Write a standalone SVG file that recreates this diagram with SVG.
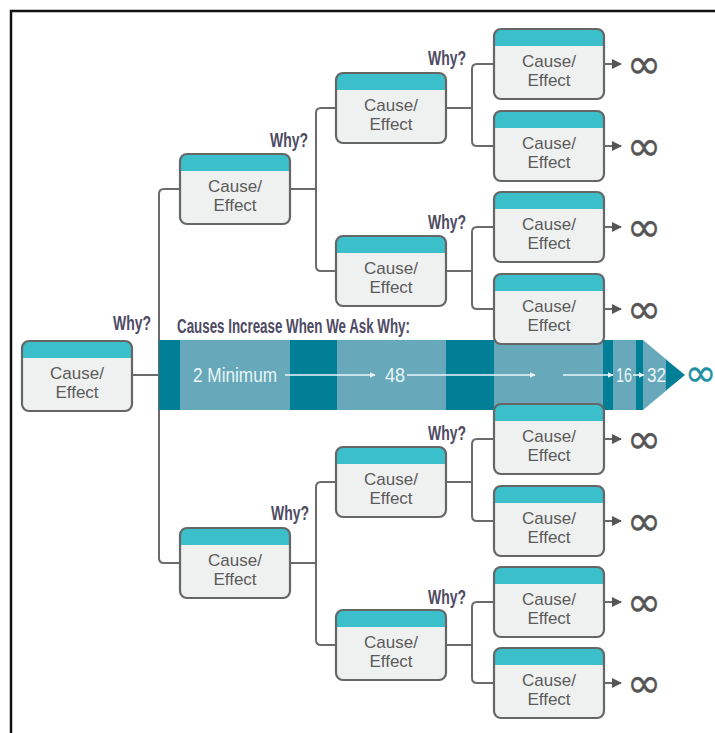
<svg xmlns="http://www.w3.org/2000/svg" xmlns:xlink="http://www.w3.org/1999/xlink" width="715" height="733" viewBox="0 0 715 733">
<style>
.conn{fill:none;stroke:#6b6b6b;stroke-width:2}
.lbl{font-family:"Liberation Sans",Arial,sans-serif;font-size:17px;fill:#5b5b5b;text-anchor:middle}
.why{font-family:"Liberation Sans",Arial,sans-serif;font-weight:bold;font-size:20px;fill:#4e4b63}
.inf{font-family:"DejaVu Sans",sans-serif;font-size:41px;fill:#555;stroke:#555;stroke-width:0.4;text-anchor:middle}
.bn{font-family:"Liberation Sans",Arial,sans-serif;font-size:20px;fill:#eaf5f7}
.wl{fill:none;stroke:#eaf5f7;stroke-width:1.6}
.light{fill:#67a9ba}
.dark{fill:#007f97}
</style>
<defs>
<g id="box">
<rect x="0" y="0" width="110" height="70" rx="7" fill="#eff0f0"/>
<path d="M0,7 a7,7 0 0 1 7,-7 h96 a7,7 0 0 1 7,7 v10 h-110 z" fill="#3bbfcb"/>
<rect x="0" y="0" width="110" height="70" rx="7" fill="none" stroke="#666" stroke-width="2.2"/>
</g>
<marker id="ah" viewBox="0 0 10 10" refX="9" refY="5" markerWidth="10" markerHeight="10" markerUnits="userSpaceOnUse" orient="auto">
<path d="M0,0 L10,5 L0,10 z" fill="#555"/>
</marker>
<marker id="wh" viewBox="0 0 10 10" refX="9" refY="5" markerWidth="6" markerHeight="6" markerUnits="userSpaceOnUse" orient="auto">
<path d="M0,0 L10,5 L0,10 z" fill="#eaf5f7"/>
</marker>
</defs>
<rect width="715" height="733" fill="#fff"/>
<path d="M11,733 V11 H715" fill="none" stroke="#111" stroke-width="2.5"/>

<g id="connectors">
<path class="conn" d="M133,375 H159"/>
<path class="conn" d="M180,189 H164 q-5,0 -5,5 V558 q0,5 5,5 H180"/>
<path class="conn" d="M290,189 H316"/>
<path class="conn" d="M336,108 H321 q-5,0 -5,5 V266 q0,5 5,5 H336"/>
<path class="conn" d="M290,563 H316"/>
<path class="conn" d="M336,482 H321 q-5,0 -5,5 V640 q0,5 5,5 H336"/>
<path class="conn" d="M446,108 H472"/>
<path class="conn" d="M494,64 H477 q-5,0 -5,5 V141 q0,5 5,5 H494"/>
<path class="conn" d="M446,271 H472"/>
<path class="conn" d="M494,227 H477 q-5,0 -5,5 V304 q0,5 5,5 H494"/>
<path class="conn" d="M446,482 H472"/>
<path class="conn" d="M494,439 H477 q-5,0 -5,5 V516 q0,5 5,5 H494"/>
<path class="conn" d="M446,645 H472"/>
<path class="conn" d="M494,602 H477 q-5,0 -5,5 V678 q0,5 5,5 H494"/>
<path class="conn" d="M604,64 H621" marker-end="url(#ah)"/>
<path class="conn" d="M604,146 H621" marker-end="url(#ah)"/>
<path class="conn" d="M604,227 H621" marker-end="url(#ah)"/>
<path class="conn" d="M604,309 H621" marker-end="url(#ah)"/>
<path class="conn" d="M604,439 H621" marker-end="url(#ah)"/>
<path class="conn" d="M604,521 H621" marker-end="url(#ah)"/>
<path class="conn" d="M604,602 H621" marker-end="url(#ah)"/>
<path class="conn" d="M604,683 H621" marker-end="url(#ah)"/>
</g>

<g id="banner">
<rect class="light" x="159" y="340" width="477" height="70"/>
<rect class="dark" x="159" y="340" width="21" height="70"/>
<rect class="dark" x="290" y="340" width="47" height="70"/>
<rect class="dark" x="446" y="340" width="48" height="70"/>
<rect class="dark" x="603" y="340" width="10" height="70"/>
<rect class="dark" x="636" y="340" width="7" height="70"/>
<polygon class="light" points="643,340 667,360 667,390 643,410"/>
<polygon class="dark" points="666,359.5 685,375 666,390.5"/>
<path class="wl" d="M285,375 H375" marker-end="url(#wh)"/>
<path class="wl" d="M407,375 H535" marker-end="url(#wh)"/>
<path class="wl" d="M563,375 H613" marker-end="url(#wh)"/>
<path class="wl" d="M633,375 H644" marker-end="url(#wh)"/>
<text class="bn" x="193" y="382" textLength="84" lengthAdjust="spacingAndGlyphs">2 Minimum</text>
<text class="bn" x="385" y="382" textLength="20" lengthAdjust="spacingAndGlyphs">48</text>
<text class="bn" x="616" y="382" textLength="16" lengthAdjust="spacingAndGlyphs">16</text>
<text class="bn" x="647" y="382" textLength="19" lengthAdjust="spacingAndGlyphs">32</text>
<text class="inf" x="700.5" y="386" style="fill:#1f8fa3;stroke:#1f8fa3;font-size:38px">∞</text>
<text class="why" x="177" y="333" textLength="233" lengthAdjust="spacingAndGlyphs">Causes Increase When We Ask Why:</text>
</g>

<g id="why-labels">
<text class="why" x="113" y="330" textLength="38" lengthAdjust="spacingAndGlyphs">Why?</text>
<text class="why" x="270" y="147" textLength="38" lengthAdjust="spacingAndGlyphs">Why?</text>
<text class="why" x="271" y="520" textLength="38" lengthAdjust="spacingAndGlyphs">Why?</text>
<text class="why" x="428" y="65" textLength="38" lengthAdjust="spacingAndGlyphs">Why?</text>
<text class="why" x="428" y="229" textLength="38" lengthAdjust="spacingAndGlyphs">Why?</text>
<text class="why" x="428" y="440" textLength="38" lengthAdjust="spacingAndGlyphs">Why?</text>
<text class="why" x="428" y="604" textLength="38" lengthAdjust="spacingAndGlyphs">Why?</text>
</g>

<g id="root" transform="translate(22,341)"><use xlink:href="#box"/><text class="lbl" x="55" y="37.5">Cause/</text><text class="lbl" x="55" y="56.5">Effect</text></g>
<g id="l1a" transform="translate(180,154)"><use xlink:href="#box"/><text class="lbl" x="55" y="37.5">Cause/</text><text class="lbl" x="55" y="56.5">Effect</text></g>
<g id="l1b" transform="translate(180,528)"><use xlink:href="#box"/><text class="lbl" x="55" y="37.5">Cause/</text><text class="lbl" x="55" y="56.5">Effect</text></g>
<g id="l2a" transform="translate(336,73)"><use xlink:href="#box"/><text class="lbl" x="55" y="37.5">Cause/</text><text class="lbl" x="55" y="56.5">Effect</text></g>
<g id="l2b" transform="translate(336,236)"><use xlink:href="#box"/><text class="lbl" x="55" y="37.5">Cause/</text><text class="lbl" x="55" y="56.5">Effect</text></g>
<g id="l2c" transform="translate(336,447)"><use xlink:href="#box"/><text class="lbl" x="55" y="37.5">Cause/</text><text class="lbl" x="55" y="56.5">Effect</text></g>
<g id="l2d" transform="translate(336,610)"><use xlink:href="#box"/><text class="lbl" x="55" y="37.5">Cause/</text><text class="lbl" x="55" y="56.5">Effect</text></g>
<g id="l3a" transform="translate(494,29)"><use xlink:href="#box"/><text class="lbl" x="55" y="37.5">Cause/</text><text class="lbl" x="55" y="56.5">Effect</text></g>
<g id="l3b" transform="translate(494,111)"><use xlink:href="#box"/><text class="lbl" x="55" y="37.5">Cause/</text><text class="lbl" x="55" y="56.5">Effect</text></g>
<g id="l3c" transform="translate(494,192)"><use xlink:href="#box"/><text class="lbl" x="55" y="37.5">Cause/</text><text class="lbl" x="55" y="56.5">Effect</text></g>
<g id="l3d" transform="translate(494,274)"><use xlink:href="#box"/><text class="lbl" x="55" y="37.5">Cause/</text><text class="lbl" x="55" y="56.5">Effect</text></g>
<g id="l3e" transform="translate(494,404)"><use xlink:href="#box"/><text class="lbl" x="55" y="37.5">Cause/</text><text class="lbl" x="55" y="56.5">Effect</text></g>
<g id="l3f" transform="translate(494,486)"><use xlink:href="#box"/><text class="lbl" x="55" y="37.5">Cause/</text><text class="lbl" x="55" y="56.5">Effect</text></g>
<g id="l3g" transform="translate(494,567)"><use xlink:href="#box"/><text class="lbl" x="55" y="37.5">Cause/</text><text class="lbl" x="55" y="56.5">Effect</text></g>
<g id="l3h" transform="translate(494,648)"><use xlink:href="#box"/><text class="lbl" x="55" y="37.5">Cause/</text><text class="lbl" x="55" y="56.5">Effect</text></g>

<g id="infinities">
<text class="inf" x="644" y="78">∞</text>
<text class="inf" x="644" y="160">∞</text>
<text class="inf" x="644" y="241">∞</text>
<text class="inf" x="644" y="323">∞</text>
<text class="inf" x="644" y="453">∞</text>
<text class="inf" x="644" y="535">∞</text>
<text class="inf" x="644" y="616">∞</text>
<text class="inf" x="644" y="697">∞</text>
</g>
</svg>
